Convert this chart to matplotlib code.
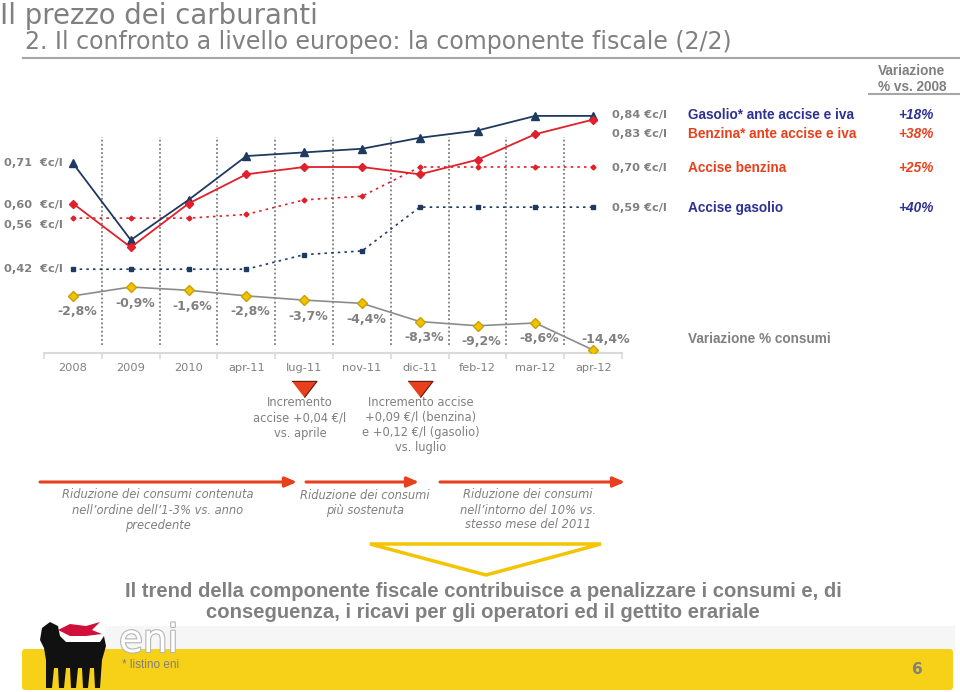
import numpy as np
import matplotlib
matplotlib.use("Agg")
import matplotlib.pyplot as plt
from matplotlib.patches import Polygon, Rectangle, FancyBboxPatch
from matplotlib.transforms import blended_transform_factory
import matplotlib.patheffects as pe

# ---------------- data ----------------
categories = ["2008", "2009", "2010", "apr-11", "lug-11", "nov-11",
              "dic-11", "feb-12", "mar-12", "apr-12"]
gasolio = [0.71, 0.50, 0.61, 0.73, 0.74, 0.75, 0.78, 0.80, 0.84, 0.84]
benzina = [0.60, 0.48, 0.60, 0.68, 0.70, 0.70, 0.68, 0.72, 0.79, 0.83]
accise_benzina = [0.56, 0.56, 0.56, 0.57, 0.61, 0.62, 0.70, 0.70, 0.70, 0.70]
accise_gasolio = [0.42, 0.42, 0.42, 0.42, 0.46, 0.47, 0.59, 0.59, 0.59, 0.59]
consumi = [-2.8, -0.9, -1.6, -2.8, -3.7, -4.4, -8.3, -9.2, -8.6, -14.4]
series_names = ["Gasolio* ante accise e iva", "Benzina* ante accise e iva",
                "Accise benzina", "Accise gasolio"]
variazioni = ["+18%", "+38%", "+25%", "+40%"]
accise_events = ["lug-11", "dic-11"]

W, H = 960, 692
GRAY = "#808080"
NAVY = "#1f3a60"
RED = "#e0202a"
NAVY_T = "#2e3192"
RED_T = "#e8401c"
YEL = "#f5c400"
ARIAL = ["Liberation Sans", "DejaVu Sans"]
NARROW = ["Liberation Sans Narrow", "Liberation Sans", "DejaVu Sans"]

fig = plt.figure(figsize=(9.6, 6.92), dpi=100)
ov = fig.add_axes([0, 0, 1, 1])
ov.set_xlim(0, W)
ov.set_ylim(H, 0)
ov.axis("off")

# ---------------- header ----------------
ov.text(0, 23.5, "Il prezzo dei carburanti", fontsize=19.8, color=GRAY, va="baseline", ha="left")
ov.text(25, 42, "2. Il confronto a livello europeo: la componente fiscale (2/2)",
        fontsize=17, color=GRAY, va="center", ha="left")
ov.plot([23, W], [58, 58], color="#a6a6a6", lw=1.5)
ov.text(912, 79, "Variazione\n% vs. 2008", fontsize=9.8, color=GRAY, fontweight="bold",
        family=ARIAL, ha="center", va="center", linespacing=1.1)
ov.plot([869, W], [94, 94], color="#a6a6a6", lw=1.5)

# ---------------- main chart ----------------
ax = fig.add_axes([44.1 / W, 1 - 353 / H, 578 / W, 259 / H])
ax.patch.set_alpha(0)
ax.set_xlim(-0.5, 9.5)
ax.set_ylim(0.1905, 0.9000)
ax2 = ax.twinx()
ax2.set_ylim(-15.03, 40.43)
for a in (ax, ax2):
    for s in a.spines.values():
        s.set_visible(False)
ax.spines["bottom"].set_visible(True)
ax.spines["bottom"].set_color("#d9d9d9")
ax.spines["bottom"].set_linewidth(1.5)
ax.set_yticks([])
ax2.set_yticks([])

x = np.arange(len(categories))
ax.set_xticks(x)
ax.set_xticklabels(categories, fontsize=8.2, color=GRAY)
ax.tick_params(axis="x", which="major", length=0, pad=7.5)
ax.set_xticks(np.arange(-0.5, len(categories)), minor=True)
ax.tick_params(axis="x", which="minor", length=4, color="#d9d9d9", width=1.2)

for i in range(len(categories) - 1):
    ax.axvline(i + 0.5, ymin=0.031, ymax=0.834, color="#7f7f7f", lw=1.3,
               ls=(0, (1, 1.3)), zorder=1)

ax.plot(x, gasolio, color=NAVY, lw=1.3, marker="^", ms=6, zorder=4)
ax.plot(x, benzina, color=RED, lw=1.3, marker="D", ms=4.5, zorder=4)
ax.plot(x, accise_benzina, color=RED, lw=1.2, ls=(0, (1.5, 2.5)), marker="D", ms=2.5, zorder=3)
ax.plot(x, accise_gasolio, color=NAVY, lw=1.2, ls=(0, (1.5, 2.5)), marker="s", ms=3, zorder=3)
ax2.plot(x, consumi, color="#8c8c8c", lw=1.2, marker="D", ms=5, mfc="#f2c200",
         mec="#c9a000", zorder=4)

def fmt(v):
    return f"{v:.2f}".replace(".", ",")

series = [gasolio, benzina, accise_benzina, accise_gasolio]
left_dy = [0, -1, -7, 0]
right_dy = [1, -14, -1, -1]
text_cols = [NAVY_T, RED_T, RED_T, NAVY_T]
for s, ldy, rdy, name, var, tc in zip(series, left_dy, right_dy, series_names,
                                      variazioni, text_cols):
    ax.annotate(fmt(s[0]) + "  €c/l", xy=(0, s[0]), xytext=(-10, ldy),
                textcoords="offset pixels", ha="right", va="center",
                fontsize=8.2, fontweight="bold", color=GRAY, annotation_clip=False)
    last = len(s) - 1
    ax.annotate(fmt(s[-1]) + " €c/l", xy=(last, s[-1]), xytext=(19, rdy),
                textcoords="offset pixels", ha="left", va="center",
                fontsize=8.2, fontweight="bold", color=GRAY, annotation_clip=False)
    ax.annotate(name, xy=(last, s[-1]), xytext=(95, rdy), textcoords="offset pixels",
                ha="left", va="center", fontsize=9.8, fontweight="bold", color=tc,
                family=ARIAL, annotation_clip=False)
    ax.annotate(var, xy=(last, s[-1]), xytext=(340, rdy), textcoords="offset pixels",
                ha="right", va="center", fontsize=9.8, fontweight="bold",
                fontstyle="italic", color=tc, family=ARIAL, annotation_clip=False)

for i, c in enumerate(consumi):
    last = i == len(consumi) - 1
    label = f"{c:.1f}%".replace(".", ",")
    ax2.annotate(label, xy=(i, c), xytext=((12, 11) if last else (4, -16)),
                 textcoords="offset pixels", ha="center", va="center",
                 fontsize=9, fontweight="bold", color=GRAY, annotation_clip=False)
ax2.annotate("Variazione % consumi", xy=(len(consumi) - 1, consumi[-1]),
             xytext=(95, 11), textcoords="offset pixels", ha="left", va="center",
             fontsize=9.8, fontweight="bold", color=GRAY, family=ARIAL,
             annotation_clip=False)

# ---------------- events (triangles) ----------------
bt = blended_transform_factory(ax.transData, ov.transData)
tri = [(-1, 0.65), (1, 0.65), (0, -0.65)]
for ev in accise_events:
    xi = categories.index(ev)
    ov.plot([xi], [389], marker=tri, ms=18, mfc="#e8401c", mec="#5a1a0a", mew=0.8,
            transform=bt, clip_on=False)
ov.text(300, 418, "Incremento\naccise +0,04 €/l\nvs. aprile", fontsize=8.3, color=GRAY,
        ha="center", va="center", linespacing=1.2)
ov.text(421, 425, "Incremento accise\n+0,09 €/l (benzina)\ne +0,12 €/l (gasolio)\nvs. luglio",
        fontsize=8.3, color=GRAY, ha="center", va="center", linespacing=1.2)

# ---------------- arrows ----------------
for x0, x1 in [(40, 297), (306, 419), (440, 625)]:
    ov.annotate("", xy=(x1, 482), xytext=(x0, 482),
                arrowprops=dict(arrowstyle="-|>,head_length=0.7,head_width=0.3",
                                color=RED_T, lw=2.2, shrinkA=0, shrinkB=0))
ov.text(158, 510, "Riduzione dei consumi contenuta\nnell’ordine dell’1-3% vs. anno\nprecedente",
        fontsize=8.3, color=GRAY, style="italic", ha="center", va="center", linespacing=1.2)
ov.text(365, 503, "Riduzione dei consumi\npiù sostenuta", fontsize=8.3, color=GRAY,
        style="italic", ha="center", va="center", linespacing=1.2)
ov.text(528, 510, "Riduzione dei consumi\nnell’intorno del 10% vs.\nstesso mese del 2011",
        fontsize=8.3, color=GRAY, style="italic", ha="center", va="center", linespacing=1.2)

ov.add_patch(Polygon([(370, 544), (601, 544), (486, 575)], closed=True, fc="white",
                     ec=YEL, lw=2.5))

ov.text(483, 602, "Il trend della componente fiscale contribuisce a penalizzare i consumi e, di\n"
        "conseguenza, i ricavi per gli operatori ed il gettito erariale",
        fontsize=14.6, fontweight="bold", color=GRAY, family=NARROW, ha="center",
        va="center", linespacing=1.12)

# ---------------- footer ----------------
ov.add_patch(Rectangle((105, 626), 850, 24, fc="#f6f6f6", ec="none"))
ov.add_patch(FancyBboxPatch((22, 649), 931, 41, boxstyle="round,pad=0,rounding_size=3",
                            fc="#f7d117", ec="none"))
ov.text(917, 670, "6", fontsize=11, fontweight="bold", color=GRAY, ha="center", va="center")
ov.text(122, 665, "* listino eni", fontsize=8.5, color=GRAY, family=NARROW,
        ha="left", va="center")
ov.text(119, 641, "eni", fontsize=28, color="white", ha="left", va="center",
        path_effects=[pe.withStroke(linewidth=1.6, foreground="#b5b5b5")])
# dog logo (simplified)
dog = [(42, 628), (50, 622), (58, 626), (60, 636), (66, 642), (100, 642), (104, 636),
       (106, 646), (102, 660), (100, 688), (95, 688), (94, 668), (90, 668), (88, 688),
       (83, 688), (82, 668), (78, 668), (76, 688), (71, 688), (70, 668), (66, 668),
       (64, 688), (59, 688), (58, 668), (54, 668), (52, 688), (46, 688), (46, 660),
       (44, 648), (40, 640)]
ov.add_patch(Polygon(dog, closed=True, fc="#111111", ec="none"))
flame = [(58, 630), (70, 624), (86, 626), (100, 622), (92, 630), (102, 634), (86, 636),
         (70, 636)]
ov.add_patch(Polygon(flame, closed=True, fc="#d0103a", ec="none"))

fig.savefig("out.png", dpi=100)
